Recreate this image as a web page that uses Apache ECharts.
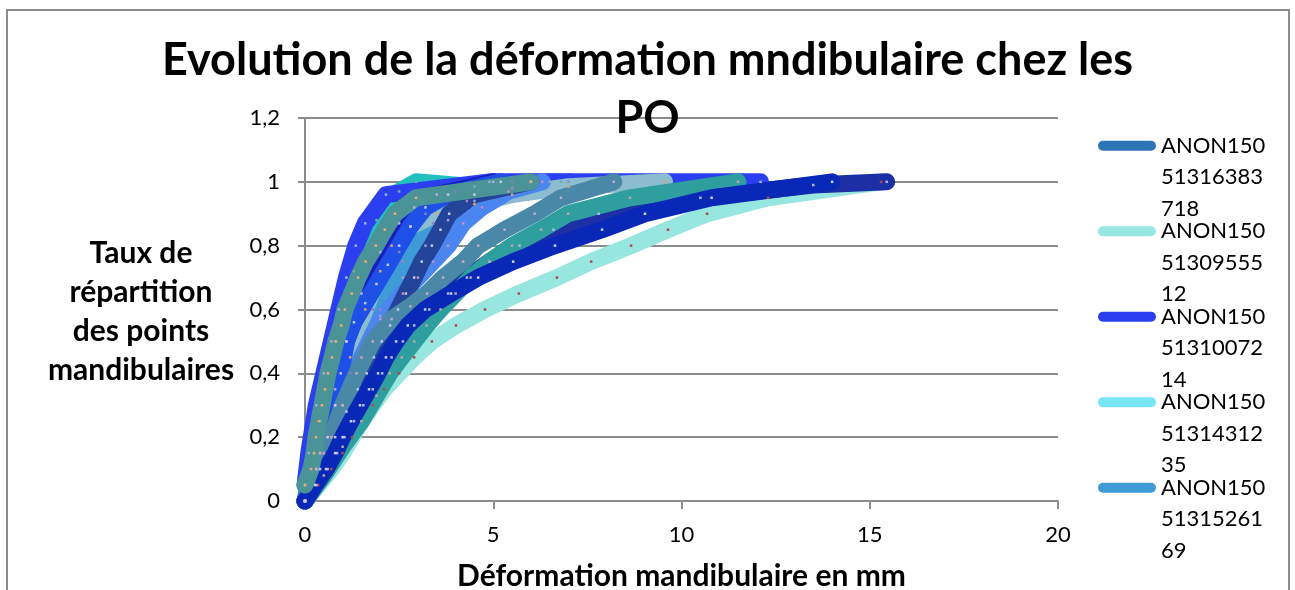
<!DOCTYPE html>
<html>
<head>
<meta charset="utf-8">
<script src="https://cdn.jsdelivr.net/npm/echarts@6/dist/echarts.min.js"></script>
<style>
  html, body { margin: 0; padding: 0; background: #fff; }
  #chart { width: 1295px; height: 590px; }
</style>
</head>
<body>
<div id="chart"></div>
<script>
// ---- DATA ----
const titleText = 'Evolution de la déformation mndibulaire chez les\nPO';
const xAxisTitle = 'Déformation mandibulaire en mm';
const yAxisTitleLines = ['Taux de', 'répartition', 'des points', 'mandibulaires'];
const xTicks = [0, 5, 10, 15, 20];
const yTicks = [0, 0.2, 0.4, 0.6, 0.8, 1, 1.2];

// series names (the legend only has room for the first five)
const legendNames = ['ANON15051316383718', 'ANON1505130955512', 'ANON1505131007214', 'ANON1505131431235', 'ANON1505131526169'];
const seriesNames = [
  'ANON15051316383718', 'ANON1505131431235', 'ANON1505130955512', 'Série 4',
  'ANON1505131526169', 'Série 6', 'ANON1505131007214', 'Série 8',
  'Série 9', 'Série 10', 'Série 11', 'Série 12',
  'Série 13', 'Série 14', 'Série 15', 'Série 16'
];

// x (mm) and y (cumulative share) for each series
const s01x = [0, 0.5, 1.0, 1.5, 2.0, 2.6, 3.2, 3.8, 4.5, 5.5, 6.5];
const s01y = [0, 0.15, 0.3, 0.45, 0.58, 0.7, 0.8, 0.88, 0.94, 0.98, 1.0];
const s02x = [0, 0.6, 1.2, 1.8, 2.5, 3.2, 4.0, 5.5];
const s02y = [0, 0.2, 0.4, 0.6, 0.78, 0.9, 0.97, 1.0];
const s03x = [0, 0.35, 0.7, 1.0, 1.25, 1.5, 1.8, 2.1, 2.5, 2.9, 3.37, 4.01, 4.78, 5.68, 6.69, 7.6, 8.66, 9.64, 10.68, 12.3, 15.3];
const s03y = [0, 0.05, 0.1, 0.15, 0.2, 0.25, 0.3, 0.35, 0.4, 0.45, 0.5, 0.55, 0.6, 0.65, 0.7, 0.75, 0.8, 0.85, 0.9, 0.95, 1.0];
const s04x = [0, 0.3, 0.6, 0.85, 1.05, 1.3, 1.55, 1.8, 2.05, 2.3, 2.6, 2.9, 3.3, 3.8, 4.3, 4.9, 5.7, 6.6, 7.8, 10.5, 13.5, 15.45];
const s04y = [0, 0.05, 0.1, 0.15, 0.2, 0.25, 0.3, 0.35, 0.4, 0.45, 0.5, 0.55, 0.6, 0.65, 0.7, 0.75, 0.8, 0.85, 0.9, 0.95, 0.99, 1.0];
const s05x = [0, 0.5, 1.0, 1.5, 2.0, 2.6, 3.4, 4.3, 5.5, 7.0];
const s05y = [0, 0.15, 0.3, 0.45, 0.6, 0.75, 0.87, 0.94, 0.98, 1.0];
const s06x = [0, 0.4, 0.8, 1.3, 1.9, 2.5, 2.95, 4.5, 6.8];
const s06y = [0, 0.25, 0.5, 0.72, 0.88, 0.97, 1.0, 0.985, 1.0];
const s07x = [0, 0.1, 0.3, 0.5, 0.7, 0.9, 1.1, 1.35, 1.6, 2.15, 4.9, 12.1];
const s07y = [0.05, 0.15, 0.3, 0.4, 0.5, 0.6, 0.7, 0.8, 0.87, 0.96, 1.0, 1.0];
const s08x = [0, 0.4, 0.8, 1.2, 1.6, 2.0, 2.3, 2.8, 3.5, 4.5, 5.5, 7.0, 9.55];
const s08y = [0, 0.15, 0.3, 0.45, 0.6, 0.72, 0.8, 0.86, 0.9, 0.93, 0.96, 0.985, 1.0];
const s09x = [0, 0.5, 1.0, 1.5, 2.0, 2.6, 3.0, 3.4, 3.8, 4.2, 4.7, 5.4, 6.3];
const s09y = [0, 0.15, 0.3, 0.45, 0.57, 0.65, 0.7, 0.75, 0.8, 0.87, 0.92, 0.97, 1.0];
const s10x = [0, 0.4, 0.8, 1.1, 1.5, 2.0, 2.5, 2.9, 3.5, 5.0];
const s10y = [0, 0.15, 0.35, 0.5, 0.65, 0.78, 0.87, 0.92, 0.96, 1.0];
const s11x = [0, 0.3, 0.6, 0.8, 0.95, 1.1, 1.3, 1.6, 1.9, 2.2, 2.5, 2.8, 3.2, 3.8, 5.2];
const s11y = [0, 0.1, 0.2, 0.3, 0.4, 0.5, 0.56, 0.62, 0.68, 0.74, 0.8, 0.86, 0.92, 0.96, 1.0];
const s12x = [0, 0.4, 0.8, 1.1, 1.4, 1.64, 1.83, 2.04, 2.26, 2.47, 2.68, 2.9, 3.1, 3.37, 3.6, 3.83, 4.5, 6.0];
const s12y = [0, 0.1, 0.2, 0.28, 0.35, 0.4, 0.45, 0.5, 0.55, 0.6, 0.65, 0.7, 0.75, 0.8, 0.85, 0.9, 0.96, 1.0];
const s13x = [0, 0.3, 0.7, 1.0, 1.37, 1.8, 2.3, 2.8, 3.24, 3.67, 4.2, 4.6, 5.3, 6.1, 6.8, 8.2];
const s13y = [0, 0.1, 0.2, 0.3, 0.4, 0.5, 0.57, 0.61, 0.65, 0.7, 0.75, 0.8, 0.85, 0.9, 0.95, 1.0];
const s14x = [0, 0.5, 1.0, 1.5, 1.9, 2.25, 2.57, 2.9, 3.23, 3.6, 4.0, 4.4, 4.9, 5.5, 6.27, 6.99, 8.63, 11.5];
const s14y = [0, 0.08, 0.17, 0.25, 0.33, 0.4, 0.45, 0.5, 0.55, 0.6, 0.65, 0.7, 0.75, 0.8, 0.85, 0.9, 0.95, 1.0];
const s15x = [0, 0.27, 0.56, 0.8, 1.0, 1.22, 1.46, 1.7, 1.94, 2.15, 2.42, 2.73, 3.19, 3.88, 4.6, 5.53, 6.64, 7.89, 9.03, 10.8, 14.0];
const s15y = [0, 0.05, 0.1, 0.15, 0.2, 0.25, 0.3, 0.35, 0.4, 0.45, 0.5, 0.55, 0.6, 0.65, 0.7, 0.75, 0.8, 0.85, 0.9, 0.95, 1.0];
const s16x = [0, 0.16, 0.24, 0.29, 0.37, 0.45, 0.53, 0.61, 0.72, 0.82, 0.96, 1.06, 1.24, 1.41, 1.61, 1.88, 2.12, 2.39, 2.95, 6.0];
const s16y = [0.05, 0.1, 0.15, 0.2, 0.25, 0.3, 0.35, 0.4, 0.45, 0.5, 0.55, 0.6, 0.65, 0.7, 0.75, 0.8, 0.85, 0.9, 0.95, 1.0];

const allX = [s01x, s02x, s03x, s04x, s05x, s06x, s07x, s08x, s09x, s10x, s11x, s12x, s13x, s14x, s15x, s16x];
const allY = [s01y, s02y, s03y, s04y, s05y, s06y, s07y, s08y, s09y, s10y, s11y, s12y, s13y, s14y, s15y, s16y];

// ---- STYLE ----
const lineColors = [
  '#2E75B6', '#75E6F2', '#98E6E0', '#1C2FA5', '#3E9BD6', '#22BFBF', '#2B3FF0', '#8BBCD0',
  '#4A85F0', '#1A20C0', '#1E50E8', '#24449A', '#4A88A8', '#2F9E9E', '#0A28B8', '#4A9498'
];
const dotColors = [
  '#9aa0c8', '#8080c0', '#b04a4a', '#b0b8e8', '#a080c0', '#6fb0a0', '#9ab0d8', '#e0a070',
  '#c090c0', '#b0b0e0', '#c0c8f0', '#c0c8e8', '#c8a8c8', '#b8a8b0', '#c8d0f0', '#f0a870'
];

const series = allX.map((xs, i) => ({
  name: seriesNames[i],
  type: 'line',
  data: xs.map((x, j) => [x, allY[i][j]]),
  symbol: 'rect',
  symbolSize: 2.5,
  showSymbol: true,
  clip: true,
  itemStyle: { color: dotColors[i] },
  lineStyle: { color: lineColors[i], width: 17, cap: 'round', join: 'round' },
  emphasis: { disabled: true },
  z: 2
}));

const chart = echarts.init(document.getElementById('chart'), null, { renderer: 'canvas' });
const fmt = v => String(+(+v).toFixed(1)).replace('.', ',');

chart.setOption({
  animation: false,
  backgroundColor: '#ffffff',
  color: lineColors,
  title: {
    text: titleText,
    left: 'center',
    top: 31,
    padding: 0,
    textStyle: { fontFamily: 'Lato', fontWeight: 'bold', fontSize: 45, lineHeight: 58, color: '#000' }
  },
  legend: {
    data: legendNames.map((n) => ({ name: n, icon: 'path://M5 0H53A5 5 0 0 1 53 10H5A5 5 0 0 1 5 0Z', itemStyle: { color: lineColors[seriesNames.indexOf(n)] } })),
    orient: 'vertical',
    left: 1098,
    top: 67,
    padding: 0,
    itemWidth: 58,
    itemHeight: 11,
    itemGap: -72,
    selectedMode: false,
    formatter: n => '\n\n' + n.slice(0, 7) + '\n' + n.slice(7, 15) + '\n' + n.slice(15),
    textStyle: { fontFamily: 'Lato', fontSize: 22, lineHeight: 31.5, color: '#000' }
  },
  grid: { left: 305, right: 237, top: 118, bottom: 89, containLabel: false, outerBoundsMode: 'none' },
  xAxis: {
    type: 'value',
    min: xTicks[0],
    max: xTicks[xTicks.length - 1],
    interval: 5,
    name: xAxisTitle,
    nameLocation: 'middle',
    nameGap: 60,
    nameTextStyle: { fontFamily: 'Lato', fontWeight: 'bold', fontSize: 30, color: '#000' },
    axisLine: { show: true, onZero: false, lineStyle: { color: '#8c8c8c', width: 2 } },
    axisTick: { show: true, length: 8, lineStyle: { color: '#8c8c8c', width: 2 } },
    axisLabel: { margin: 23, fontFamily: 'Lato', fontSize: 22, color: '#000', formatter: v => fmt(v) },
    splitLine: { show: false }
  },
  yAxis: {
    type: 'value',
    min: yTicks[0],
    max: yTicks[yTicks.length - 1],
    interval: 0.2,
    name: '{sp|}\n' + yAxisTitleLines.map(l => '{t|' + l + '}').join('\n'),
    nameLocation: 'middle',
    nameRotate: 0,
    nameGap: 164,
    nameTextStyle: {
      fontFamily: 'Lato', fontWeight: 'bold', fontSize: 30, color: '#000', align: 'center',
      rich: {
        t: { fontFamily: 'Lato', fontWeight: 'bold', fontSize: 30, lineHeight: 39, color: '#000' },
        sp: { fontSize: 4, lineHeight: 4 }
      }
    },
    axisLine: { show: true, lineStyle: { color: '#8c8c8c', width: 2 } },
    axisTick: { show: true, length: 7, lineStyle: { color: '#8c8c8c', width: 2 } },
    axisLabel: { margin: 25, fontFamily: 'Lato', fontSize: 22, color: '#000', formatter: v => fmt(v) },
    splitLine: { show: true, lineStyle: { color: '#8c8c8c', width: 2 } }
  },
  graphic: [{
    type: 'rect',
    silent: true,
    z: 0,
    shape: { x: 7, y: 10, width: 1282, height: 600 },
    style: { fill: 'none', stroke: '#8c8c8c', lineWidth: 2 }
  }],
  series: series
});
</script>
</body>
</html>
